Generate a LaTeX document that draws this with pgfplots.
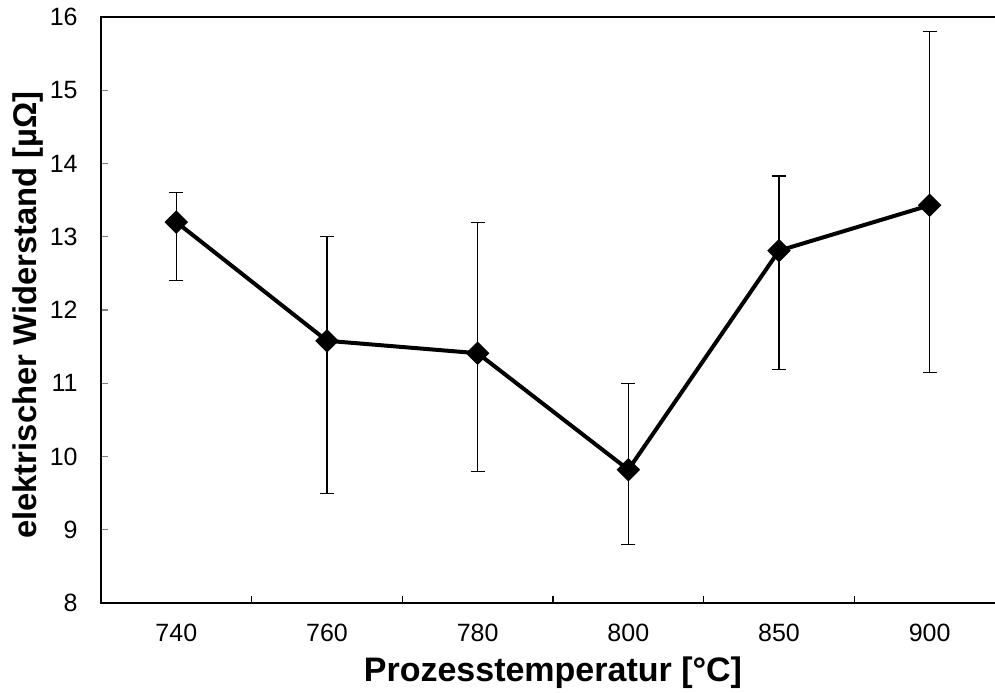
\documentclass[border=0pt]{standalone}
\usepackage{fontspec}
\setmainfont{Liberation Sans}
\usepackage{pgfplots}
\pgfplotsset{compat=1.18}

\begin{document}
\begin{tikzpicture}
\begin{axis}[
  at={(0,0)}, anchor=south west,
  scale only axis,
  width=452pt, height=293pt,
  xmin=-0.5, xmax=5.5,
  ymin=8, ymax=16,
  ytick={8,9,...,16},
  xtick={0,1,2,3,4,5},
  xticklabels={740,760,780,800,850,900},
  minor x tick num=1,
  tick align=inside,
  tick pos=left,
  major tick length=3.5pt,
  minor tick length=3.5pt,
  x tick style={draw=none},
  minor x tick style={draw=black, line width=0.7pt},
  y tick style={line width=0.7pt},
  axis line style={line width=0.9pt},
  /pgf/number format/assume math mode=true,
  tick label style={font=\fontsize{12.5}{14}\selectfont},
  yticklabel style={inner sep=0pt, xshift=-11.5pt},
  xticklabel style={inner sep=0pt, yshift=-10.5pt},
  xlabel={Prozesstemperatur [°C]},
  ylabel={elektrischer Widerstand [µΩ]},
  xlabel style={font=\fontsize{17}{20}\selectfont\bfseries,
    at={(axis description cs:0.5,-0.1195)}, anchor=center},
  ylabel style={font=\fontsize{16.4}{19}\selectfont\bfseries,
    at={(axis description cs:-0.0808,0.4915)}, anchor=center},
]
% mean resistance with asymmetric scatter (upper / lower deviation)
\addplot[
  black, line width=2pt,
  mark=square*, mark size=3.9pt,
  mark options={rotate=45, solid, line width=0.5pt},
  error bars/.cd,
    y dir=both, y explicit,
    error bar style={line width=0.6pt, black},
    error mark options={rotate=90, mark size=3.5pt, line width=0.6pt, black},
] table[x=x, y=y, y error plus=ep, y error minus=em] {
x  y      ep    em
0  13.20  0.40  0.80
1  11.58  1.42  2.08
2  11.41  1.79  1.61
3  9.82   1.18  1.02
4  12.81  1.02  1.62
5  13.43  2.37  2.28
};
\end{axis}
\pgfresetboundingbox
\useasboundingbox (-50.5pt,-44.5pt) rectangle (447pt,301.5pt);
\end{tikzpicture}
\end{document}
